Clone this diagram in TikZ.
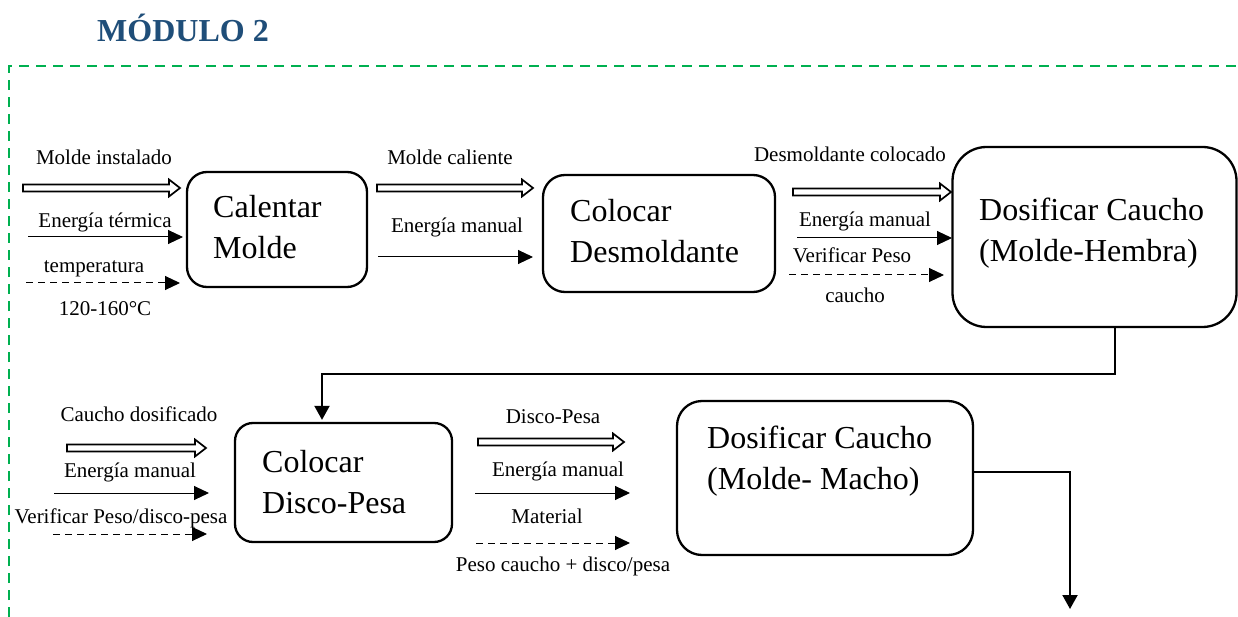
\documentclass[tikz,border=0pt]{standalone}
\usepackage{fontspec}
\setmainfont{Liberation Serif}
\usetikzlibrary{arrows.meta,calc}
\definecolor{titleblue}{HTML}{1F4E79}
\definecolor{borderg}{HTML}{00B050}
\begin{document}
\begin{tikzpicture}[x=1pt,y=-1pt,
  lbl/.style={font=\fontsize{21}{25}\selectfont, inner sep=0pt, anchor=base},
  boxtxt/.style={font=\fontsize{32}{41}\selectfont, inner sep=0pt, anchor=base west, align=left},
  proc/.style={draw, line width=2.3pt, inner sep=0pt},
  flow/.style={line width=1pt, -{Triangle[length=15pt,width=14pt]}},
  flowd/.style={flow, dash pattern=on 7pt off 5pt},
  link/.style={line width=2pt, -{Triangle[length=14pt,width=15pt]}},
  hollow/.style={line width=1.7pt, line join=miter,
    to path={let \p1=(\tikztostart), \p2=(\tikztotarget) in
      (\x1,\y1+3.5pt) -- (\x2-11pt,\y1+3.5pt) -- (\x2-11pt,\y1+8.5pt) -- (\x2,\y1)
      -- (\x2-11pt,\y1-8.5pt) -- (\x2-11pt,\y1-3.5pt) -- (\x1,\y1-3.5pt) -- cycle}},
  frame/.style={draw=borderg, line width=2pt, dash pattern=on 10pt off 7pt}
]
\fill[white] (0,0) rectangle (1238,617);
\useasboundingbox (0,0) rectangle (1238,617);

% title and frame
\node[font=\bfseries\fontsize{32}{38}\selectfont, text=titleblue, inner sep=0pt, anchor=base] (title) at (183,42) {MÓDULO 2};
\draw[frame] (9,617) -- (9,66) -- (1240,66);

% process boxes
\node[proc, rounded corners=20pt, minimum width=180pt, minimum height=115pt] (b1) at (277,229.5) {};
\node[boxtxt] (b1t) at (213,259) {Calentar\\Molde};
\node[proc, rounded corners=22pt, minimum width=232pt, minimum height=117pt] (b2) at (659,233.5) {};
\node[boxtxt] (b2t) at (570,263) {Colocar\\Desmoldante};
\node[proc, rounded corners=34pt, minimum width=284pt, minimum height=180pt] (b3) at (1094.5,237) {};
\node[boxtxt] (b3t) at (979,262) {Dosificar Caucho\\(Molde-Hembra)};
\node[proc, rounded corners=18pt, minimum width=217pt, minimum height=119pt] (b4) at (343.5,482.5) {};
\node[boxtxt] (b4t) at (262,513) {Colocar\\Disco-Pesa};
\node[proc, rounded corners=25pt, minimum width=296pt, minimum height=154pt] (b5) at (825,478) {};
\node[boxtxt] (b5t) at (707,489) {Dosificar Caucho\\(Molde- Macho)};

% connectors between boxes
\draw[link] ([xshift=20.5pt]b3.south) -- ++(0,46) -| ([xshift=-21.5pt,yshift=2pt]b4.north);
\coordinate (endc) at (1070,609);
\draw[link] ([yshift=6pt]b5.east) -| (endc);

% group 1
\coordinate (a1s) at (23,188);  \coordinate (a1e) at (180,188);
\coordinate (a2s) at (28,237);  \coordinate (a2e) at (183,237);
\coordinate (a3s) at (26,283);  \coordinate (a3e) at (180,283);
\draw[hollow] (a1s) to (a1e);
\draw[flow] (a2s) -- (a2e);
\draw[flowd] (a3s) -- (a3e);
\node[lbl] (l1) at (104,165) {Molde instalado};
\node[lbl] (l2) at (105,228) {Energía térmica};
\node[lbl] (l3) at (94,273) {temperatura};
\node[lbl] (l4) at (105,315) {120-160°C};

% group 2
\coordinate (c1s) at (377,188); \coordinate (c1e) at (533,188);
\coordinate (c2s) at (378,257); \coordinate (c2e) at (533,257);
\draw[hollow] (c1s) to (c1e);
\draw[flow] (c2s) -- (c2e);
\node[lbl] (m1) at (450,165) {Molde caliente};
\node[lbl] (m2) at (457,233) {Energía manual};

% group 3
\coordinate (d1s) at (793,192); \coordinate (d1e) at (951,192);
\coordinate (d2s) at (797,238); \coordinate (d2e) at (952,238);
\coordinate (d3s) at (789,275); \coordinate (d3e) at (944,275);
\draw[hollow] (d1s) to (d1e);
\draw[flow] (d2s) -- (d2e);
\draw[flowd] (d3s) -- (d3e);
\node[lbl] (n1) at (850,162) {Desmoldante colocado};
\node[lbl] (n2) at (865,227) {Energía manual};
\node[lbl] (n3) at (852,263) {Verificar Peso};
\node[lbl] (n4) at (855,302) {caucho};

% group 4
\coordinate (e1s) at (67,448); \coordinate (e1e) at (206,448);
\coordinate (e2s) at (54,493); \coordinate (e2e) at (209,493);
\coordinate (e3s) at (53,534); \coordinate (e3e) at (207,534);
\draw[hollow] (e1s) to (e1e);
\draw[flow] (e2s) -- (e2e);
\draw[flowd] (e3s) -- (e3e);
\node[lbl] (o1) at (139,421) {Caucho dosificado};
\node[lbl] (o2) at (130,477) {Energía manual};
\node[lbl] (o3) at (121,523) {Verificar Peso/disco-pesa};

% group 5
\coordinate (f1s) at (478,442); \coordinate (f1e) at (624,442);
\coordinate (f2s) at (475,493); \coordinate (f2e) at (630,493);
\coordinate (f3s) at (476,543); \coordinate (f3e) at (630,543);
\draw[hollow] (f1s) to (f1e);
\draw[flow] (f2s) -- (f2e);
\draw[flowd] (f3s) -- (f3e);
\node[lbl] (p1) at (553,423) {Disco-Pesa};
\node[lbl] (p2) at (558,476) {Energía manual};
\node[lbl] (p3) at (547,523) {Material};
\node[lbl] (p4) at (563,571) {Peso caucho + disco/pesa};
\end{tikzpicture}
\end{document}
